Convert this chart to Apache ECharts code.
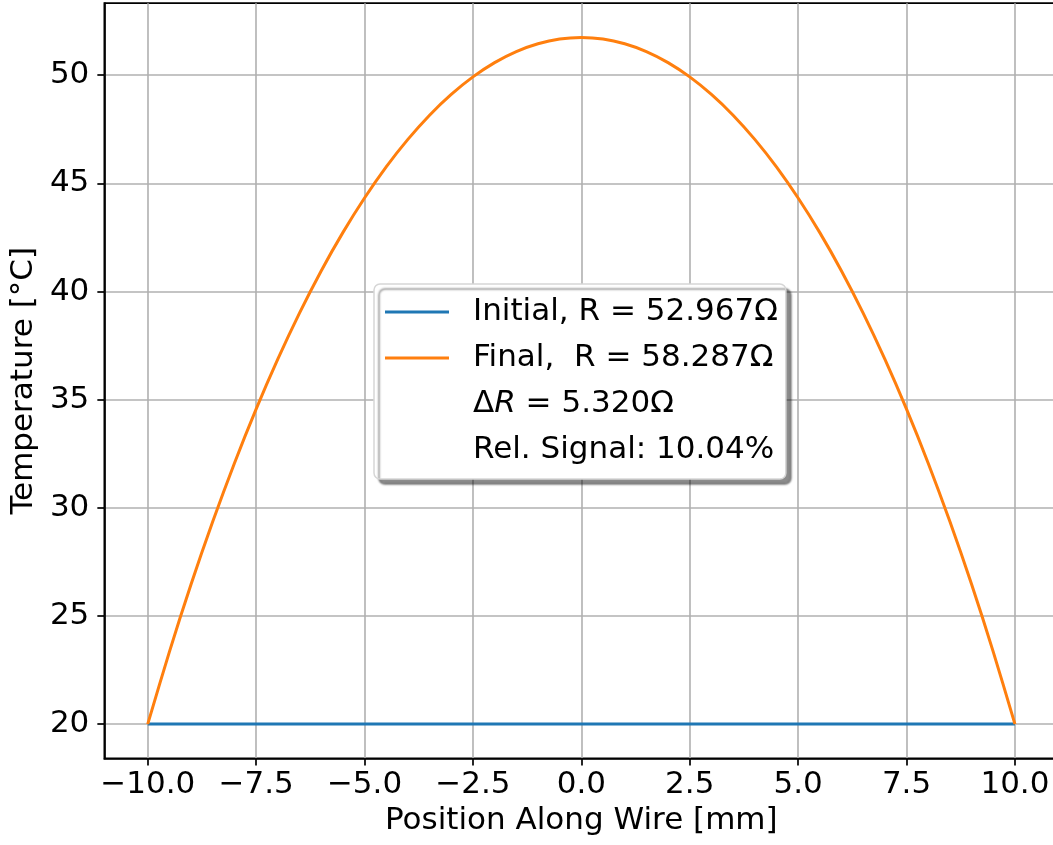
<!DOCTYPE html>
<html>
<head>
<meta charset="utf-8">
<script src="https://cdn.jsdelivr.net/npm/echarts@6/dist/echarts.min.js"></script>
<style>
html,body{margin:0;padding:0;background:#fff;overflow:hidden;width:1053px;height:845px;}
#chart{width:1070px;height:845px;}
</style>
</head>
<body>
<div id="chart"></div>
<script>
// Position along wire [mm]
const positions = [-10,-9.5,-9,-8.5,-8,-7.5,-7,-6.5,-6,-5.5,-5,-4.5,-4,-3.5,-3,-2.5,-2,-1.5,-1,-0.5,0,
  0.5,1,1.5,2,2.5,3,3.5,4,4.5,5,5.5,6,6.5,7,7.5,8,8.5,9,9.5,10];
// Initial temperature [°C]
const initialTemp = [20,20,20,20,20,20,20,20,20,20,20,20,20,20,20,20,20,20,20,20,20,
  20,20,20,20,20,20,20,20,20,20,20,20,20,20,20,20,20,20,20,20];
// Final temperature [°C]
const finalTemp = [20.00,23.34,26.46,29.36,32.06,34.56,36.87,39.00,40.95,42.72,44.32,45.76,47.03,48.15,49.11,49.92,50.58,51.09,51.45,51.67,51.74,
  51.67,51.45,51.09,50.58,49.92,49.11,48.15,47.03,45.76,44.32,42.72,40.95,39.00,36.87,34.56,32.06,29.36,26.46,23.34,20.00];
const xTicks = [-10,-7.5,-5,-2.5,0,2.5,5,7.5,10];
const yTicks = [20,25,30,35,40,45,50];
const seriesNames = ['Initial, R = 52.967Ω', 'Final,  R = 58.287Ω'];
const extraLabels = ['ΔR = 5.320Ω', 'Rel. Signal: 10.04%'];

const FONT = 'DejaVu Sans';
const FS = 31;
const chart = echarts.init(document.getElementById('chart'), null, {renderer: 'canvas'});

function pairs(xs, ys) { return xs.map((x, i) => [x, ys[i]]); }

const option = {
  animation: false,
  backgroundColor: '#ffffff',
  textStyle: {fontFamily: FONT},
  grid: {
    left: 103.3, top: 3.2, width: 955, height: 755.2,
    show: true, borderColor: '#000000', borderWidth: 1.7, backgroundColor: 'transparent'
  },
  xAxis: {
    type: 'value', min: -11, max: 11,
    name: 'Position Along Wire [mm]', nameLocation: 'middle', nameGap: 47,
    nameTextStyle: {fontSize: FS, color: '#000', fontFamily: FONT},
    axisLine: {show: true, onZero: false, lineStyle: {color: '#000', width: 1.7}},
    axisTick: {show: true, length: 7, customValues: xTicks, lineStyle: {color: '#000', width: 1.7}},
    axisLabel: {customValues: xTicks, fontSize: FS, color: '#000', fontFamily: FONT, margin: 11,
      formatter: v => (v < 0 ? '\u2212' : '') + Math.abs(v).toFixed(1)},
    splitLine: {show: true, lineStyle: {color: '#b0b0b0', width: 1.6}}
  },
  yAxis: {
    type: 'value', min: 18.413, max: 53.327,
    name: 'Temperature [°C]', nameLocation: 'middle', nameGap: 62,
    nameTextStyle: {fontSize: FS, color: '#000', fontFamily: FONT},
    axisLine: {show: true, onZero: false, lineStyle: {color: '#000', width: 1.7}},
    axisTick: {show: true, length: 7, customValues: yTicks, lineStyle: {color: '#000', width: 1.7}},
    axisLabel: {customValues: yTicks, fontSize: FS, color: '#000', fontFamily: FONT, margin: 15,
      formatter: v => String(v)},
    splitLine: {show: true, lineStyle: {color: '#b0b0b0', width: 1.6}}
  },
  legend: {
    orient: 'vertical', left: 374, top: 284,
    padding: [10, 8, 11, 11], itemGap: 10, itemWidth: 64, itemHeight: 3,
    icon: 'rect', selectedMode: false,
    backgroundColor: '#ffffff', borderColor: '#d6d6d6', borderWidth: 1.5, borderRadius: 6,
    shadowColor: 'rgba(0,0,0,0.45)', shadowOffsetX: 5, shadowOffsetY: 5, shadowBlur: 2,
    textStyle: {fontSize: FS, color: '#000', fontFamily: FONT, lineHeight: 36, padding: [0, 0, 0, 19],
      rich: {it: {fontStyle: 'italic', fontSize: FS, fontFamily: FONT, color: '#000', lineHeight: 36}}},
    formatter: name => name.startsWith('Δ') ? 'Δ{it|R}' + name.slice(2) : name,
    data: [
      {name: seriesNames[0]},
      {name: seriesNames[1]},
      {name: extraLabels[0], icon: 'none'},
      {name: extraLabels[1], icon: 'none'}
    ]
  },
  series: [
    {name: seriesNames[0], type: 'line', data: pairs(positions, initialTemp), showSymbol: false, symbol: 'none',
      lineStyle: {color: '#1f77b4', width: 3}, itemStyle: {color: '#1f77b4'}, z: 3},
    {name: seriesNames[1], type: 'line', data: pairs(positions, finalTemp), showSymbol: false, symbol: 'none',
      smooth: 0.3, lineStyle: {color: '#ff7f0e', width: 3}, itemStyle: {color: '#ff7f0e'}, z: 3},
    {name: extraLabels[0], type: 'line', data: [], showSymbol: false},
    {name: extraLabels[1], type: 'line', data: [], showSymbol: false}
  ]
};
chart.setOption(option);
</script>
</body>
</html>
